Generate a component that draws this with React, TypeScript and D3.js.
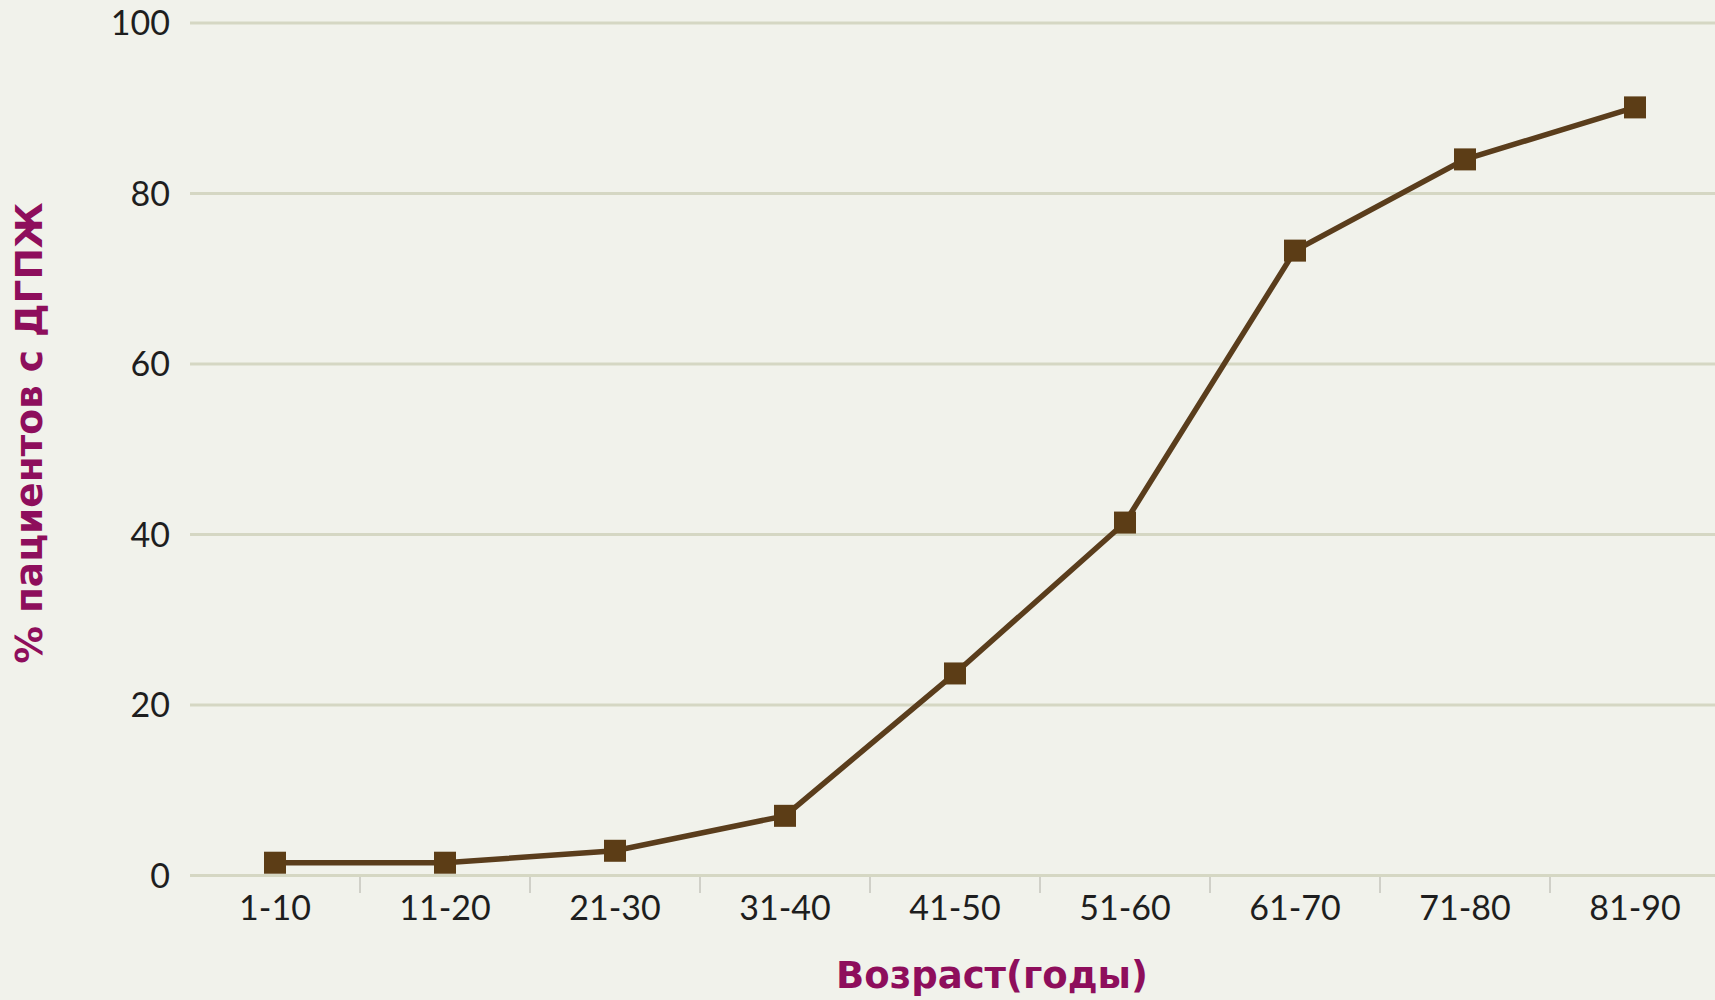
import React from "react";
import * as d3 from "d3";

const categories = ["1-10", "11-20", "21-30", "31-40", "41-50", "51-60", "61-70", "71-80", "81-90"];
const values = [1.5, 1.5, 2.9, 7.0, 23.7, 41.4, 73.3, 84.0, 90.1];
const yTicks = [0, 20, 40, 60, 80, 100];
const xTitle = "Возраст(годы)";
const yTitle = "% пациентов с ДГПЖ";

const W = 1715;
const H = 1000;

export default function App() {
  const x = d3.scaleBand<string>().domain(categories).range([190, 1720]).padding(0);
  const y = d3.scaleLinear().domain([0, 100]).range([875.5, 23]);
  const cx = (c: string) => (x(c) ?? 0) + x.bandwidth() / 2;
  const line = d3
    .line<number>()
    .x((_, i) => cx(categories[i]))
    .y((d) => y(d));
  const tickFont = "'Lato', 'DejaVu Sans', sans-serif";
  const titleFont = "'DejaVu Sans', Verdana, sans-serif";
  const titleColor = "#8e0e5c";
  const sq = 22;
  return (
    <svg
      width={W}
      height={H}
      style={{ position: "absolute", left: 0, top: 0, display: "block" }}
    >
      <rect x={0} y={0} width={W} height={H} fill="#f1f2eb" />
      {yTicks.map((t) => (
        <g key={t}>
          <line x1={190} x2={W} y1={y(t)} y2={y(t)} stroke="#d5d7c3" strokeWidth={3} />
          <text
            x={170}
            y={y(t)}
            dy="0.36em"
            textAnchor="end"
            fontFamily={tickFont}
            fontSize={34}
            fill="#1e1e1e"
          >
            {t}
          </text>
        </g>
      ))}
      {categories.slice(1).map((c) => (
        <line
          key={"tk" + c}
          x1={x(c)}
          x2={x(c)}
          y1={877}
          y2={893}
          stroke="#d0d0c8"
          strokeWidth={2}
        />
      ))}
      {categories.map((c) => (
        <text
          key={"xl" + c}
          x={cx(c)}
          y={920}
          textAnchor="middle"
          fontFamily={tickFont}
          fontSize={34}
          fill="#1e1e1e"
        >
          {c}
        </text>
      ))}
      <path d={line(values) ?? ""} fill="none" stroke="#5a3d1c" strokeWidth={5.5} />
      {values.map((v, i) => (
        <rect
          key={"m" + i}
          x={cx(categories[i]) - sq / 2}
          y={y(v) - sq / 2}
          width={sq}
          height={sq}
          fill="#5c3d16"
        />
      ))}
      <text
        x={992}
        y={988}
        textAnchor="middle"
        fontFamily={titleFont}
        fontWeight="bold"
        fontSize={37}
        fill={titleColor}
      >
        {xTitle}
      </text>
      <text
        transform={`translate(42, 433) rotate(-90)`}
        textAnchor="middle"
        fontFamily={titleFont}
        fontWeight="bold"
        fontSize={37.5}
        fill={titleColor}
      >
        {yTitle}
      </text>
    </svg>
  );
}
